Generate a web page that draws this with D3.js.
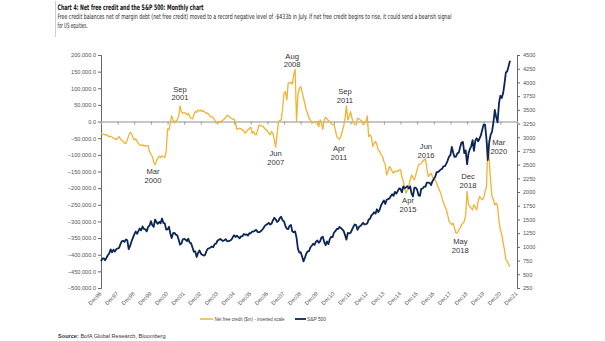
<!DOCTYPE html>
<html>
<head>
<meta charset="utf-8">
<script src="https://cdn.jsdelivr.net/npm/d3@7"></script>
<style>
  body { margin: 0; background: #fff; }
  svg text { font-family: "Liberation Sans", Arial, sans-serif; }
</style>
</head>
<body>
<div id="chart"></div>
<script>
// ---- data (monthly, Dec 1996 .. Jul 2021) ----
const firstMonth = "1996-12";

// Net free credit, $m
const creditValues = [
  -35000,
  -37000,-38000,-40000,-39500,-43000,-45000,-44000,-47000,-50000,-52000,-54000,-50000,
  -45000,-52000,-57000,-60000,-64000,-66000,-55000,-42000,-33000,-36000,-48000,-55000,
  -52000,-60000,-66000,-70000,-72000,-70000,-73000,-72000,-73000,-72000,-90000,-98000,
  -105000,-122000,-130000,-118000,-110000,-104000,-108000,-103000,-105000,-108000,-90000,-22000,
  -25000,-5000,17000,5000,-4000,2000,5000,15000,47000,30000,25000,27000,
  25000,20000,25000,15000,10000,8000,20000,30000,28000,35000,32000,35000,
  30000,33000,28000,25000,25000,20000,15000,15000,10000,5000,-5000,0,
  0,-3000,2000,5000,8000,12000,19000,17000,12000,10000,7000,7000,
  -5000,-23000,-22000,-20000,-22000,-25000,-28000,-35000,-30000,-25000,-20000,-17000,
  -35000,-30000,-38000,-40000,-25000,-10000,-12000,-13000,-15000,-20000,-25000,-28000,
  -35000,-40000,-30000,-35000,-55000,-77000,-40000,0,3000,5000,40000,85000,
  90000,65000,115000,117000,118000,113000,140000,157000,0,80000,100000,105000,
  90000,70000,55000,35000,25000,10000,5000,-5000,-3000,-2000,0,-5000,
  -15000,5000,-5000,-23000,5000,13000,8000,3000,0,-5000,-10000,-10000,
  -25000,-45000,-50000,-53000,-45000,-30000,-15000,10000,47000,5000,15000,30000,
  10000,-5000,-8000,-10000,10000,8000,5000,2000,-10000,-5000,0,17000,
  -45000,-40000,-45000,-75000,-65000,-60000,-70000,-85000,-90000,-100000,-105000,-120000,
  -130000,-160000,-150000,-135000,-140000,-150000,-155000,-150000,-148000,-150000,-145000,-145000,
  -165000,-180000,-200000,-215000,-205000,-195000,-175000,-160000,-170000,-175000,-160000,-145000,
  -130000,-128000,-125000,-120000,-115000,-112000,-140000,-165000,-160000,-155000,-165000,-175000,
  -175000,-185000,-195000,-205000,-215000,-230000,-245000,-255000,-265000,-280000,-300000,-305000,
  -310000,-305000,-320000,-335000,-335000,-325000,-320000,-310000,-305000,-300000,-280000,-210000,
  -250000,-255000,-260000,-265000,-250000,-258000,-265000,-240000,-225000,-230000,-235000,-230000,
  -210000,-195000,-65000,-115000,-180000,-225000,-235000,-250000,-245000,-255000,-300000,-325000,
  -340000,-365000,-385000,-415000,-420000,-430000,-436000
];

// S&P 500 month-end level
const spxValues = [
  740.7,
  786.2,790.8,757.1,801.3,848.3,885.1,954.3,899.5,947.3,914.6,955.4,970.4,
  980.3,1049.3,1101.8,1111.8,1090.8,1133.8,1120.7,957.3,1017.0,1098.7,1163.6,1229.2,
  1279.6,1238.3,1286.4,1335.2,1301.8,1372.7,1328.7,1320.4,1282.7,1362.9,1388.9,1469.3,
  1394.5,1366.4,1498.6,1452.4,1420.6,1454.6,1430.8,1517.7,1436.5,1429.4,1315.0,1320.3,
  1366.0,1239.9,1160.3,1249.5,1255.8,1224.4,1211.2,1133.6,1040.9,1059.8,1139.5,1148.1,
  1130.2,1106.7,1147.4,1076.9,1067.1,989.8,911.6,916.1,815.3,885.8,936.3,879.8,
  855.7,841.2,848.2,916.9,963.6,974.5,990.3,1008.0,996.0,1050.7,1058.2,1111.9,
  1131.1,1144.9,1126.2,1107.3,1120.7,1140.8,1101.7,1104.2,1114.6,1130.2,1173.8,1211.9,
  1181.3,1203.6,1180.6,1156.9,1191.5,1191.3,1234.2,1220.3,1228.8,1207.0,1249.5,1248.3,
  1280.1,1280.7,1294.8,1310.6,1270.1,1270.2,1276.7,1303.8,1335.9,1377.9,1400.6,1418.3,
  1438.2,1406.8,1420.9,1482.4,1530.6,1503.4,1455.3,1474.0,1526.8,1549.4,1481.1,1468.4,
  1378.6,1330.6,1322.7,1385.6,1400.4,1280.0,1267.4,1282.8,1166.4,968.8,896.2,903.3,
  825.9,735.1,797.9,872.8,919.1,919.3,987.5,1020.6,1057.1,1036.2,1095.6,1115.1,
  1073.9,1104.5,1169.4,1186.7,1089.4,1030.7,1101.6,1049.3,1141.2,1183.3,1180.6,1257.6,
  1286.1,1327.2,1325.8,1363.6,1345.2,1320.6,1292.3,1218.9,1131.4,1253.3,1247.0,1257.6,
  1312.4,1365.7,1408.5,1397.9,1310.3,1362.2,1379.3,1406.6,1440.7,1412.2,1416.2,1426.2,
  1498.1,1514.7,1569.2,1597.6,1630.7,1606.3,1685.7,1633.0,1681.6,1756.5,1805.8,1848.4,
  1782.6,1859.5,1872.3,1884.0,1923.6,1960.2,1930.7,2003.4,1972.3,2018.1,2067.6,2058.9,
  1995.0,2104.5,2067.9,2085.5,2107.4,2063.1,2103.8,1972.2,1920.0,2079.4,2080.4,2043.9,
  1940.2,1932.2,2059.7,2065.3,2097.0,2098.9,2173.6,2171.0,2168.3,2126.2,2198.8,2238.8,
  2278.9,2363.6,2362.7,2384.2,2411.8,2423.4,2470.3,2471.7,2519.4,2575.3,2647.6,2673.6,
  2823.8,2713.8,2640.9,2648.1,2705.3,2718.4,2816.3,2901.5,2914.0,2711.7,2760.2,2506.9,
  2704.1,2784.5,2834.4,2945.8,2752.1,2941.8,2980.4,2926.5,2976.7,3037.6,3141.0,3230.8,
  3225.5,2954.2,2584.6,2912.4,3044.3,3100.3,3271.1,3500.3,3363.0,3270.0,3621.6,3756.1,
  3714.2,3811.2,3972.9,4181.2,4204.1,4297.5,4395.3
];

const xTickLabels = ["Dec96","Dec97","Dec98","Dec99","Dec00","Dec01","Dec02","Dec03","Dec04",
  "Dec05","Dec06","Dec07","Dec08","Dec09","Dec10","Dec11","Dec12","Dec13","Dec14","Dec15",
  "Dec16","Dec17","Dec18","Dec19","Dec20","Dec21"];
const leftTicks = [200000,150000,100000,50000,0,-50000,-100000,-150000,-200000,-250000,
  -300000,-350000,-400000,-450000,-500000];
const rightTicks = [4500,4250,4000,3750,3500,3250,3000,2750,2500,2250,2000,1750,1500,1250,1000,750,500,250];

// annotations: month, two text lines
const noteMonths = ["2000-03","2001-09","2007-06","2008-08","2011-09","2011-04","2016-06","2015-04","2018-12","2018-05","2020-03"];
const noteText = [["Mar","2000"],["Sep","2001"],["Jun","2007"],["Aug","2008"],["Sep","2011"],["Apr","2011"],
  ["Jun","2016"],["Apr","2015"],["Dec","2018"],["May","2018"],["Mar","2020"]];
// first-line baseline placement relative to the point (px)
const noteOffsets = [[-2,9.6],[0,-14.4],[0,9.2],[-3,-10.8],[-1.5,-11.5],[-0.5,12.2],[0.5,-9.4],[2,10.2],[1,-12.1],[3,11.3],[11,2.2]];

// ---- layout ----
const W = 605, H = 341;
const plot = {left: 101, right: 517, top: 55, bottom: 288};
const gold = "#F2B233", navy = "#0B2556";
const narrow = "'Liberation Sans Narrow','DejaVu Sans Condensed',sans-serif";

const parseM = d3.timeParse("%Y-%m");
const start = parseM(firstMonth);
const dates = creditValues.map((_, i) => d3.timeMonth.offset(start, i));
const xTickDates = xTickLabels.map((_, i) => d3.timeYear.offset(start, i));

const x = d3.scaleTime()
  .domain([xTickDates[0], xTickDates[xTickDates.length - 1]])
  .range([plot.left, plot.right]);
const yL = d3.scaleLinear().domain([-500000, 200000]).range([plot.bottom, plot.top]);
const yR = d3.scaleLinear().domain([250, 4500]).range([plot.bottom, plot.top]);

const svg = d3.select("#chart").append("svg")
  .attr("width", W).attr("height", H);

// header
svg.append("line").attr("x1", 55.5).attr("x2", 55.5).attr("y1", 1).attr("y2", 37)
  .attr("stroke", "#cfcfcf").attr("stroke-width", 1);
svg.append("text").attr("x", 57.5).attr("y", 10)
  .style("font-family", narrow)
  .style("font-weight", "bold").style("font-size", "7.6px").attr("fill", "#111")
  .attr("textLength", 146).attr("lengthAdjust", "spacingAndGlyphs")
  .text("Chart 4: Net free credit and the S&P 500: Monthly chart");
svg.append("text").attr("x", 57.5).attr("y", 19)
  .style("font-family", narrow)
  .style("font-size", "7.2px").attr("fill", "#222")
  .attr("textLength", 394).attr("lengthAdjust", "spacingAndGlyphs")
  .text("Free credit balances net of margin debt (net free credit) moved to a record negative level of -$433b in July. If net free credit begins to rise, it could send a bearish signal");
svg.append("text").attr("x", 57.5).attr("y", 27.5)
  .style("font-family", narrow)
  .style("font-size", "7.2px").attr("fill", "#222")
  .attr("textLength", 30).attr("lengthAdjust", "spacingAndGlyphs")
  .text("for US equities.");

// left axis
const leftAxis = svg.append("g")
  .attr("transform", `translate(${plot.left},0)`)
  .call(d3.axisLeft(yL).tickValues(leftTicks).tickFormat(d3.format(",.1f")).tickSize(3).tickPadding(2));
leftAxis.select(".domain").attr("stroke", "#666");
leftAxis.selectAll(".tick line").attr("stroke", "#666");
leftAxis.selectAll("text").style("font-size", "5.6px").attr("fill", "#555");

// right axis
const rightAxis = svg.append("g")
  .attr("transform", `translate(${plot.right},0)`)
  .call(d3.axisRight(yR).tickValues(rightTicks).tickFormat(d3.format("d")).tickSize(3).tickPadding(3));
rightAxis.select(".domain").attr("stroke", "#666");
rightAxis.selectAll(".tick line").attr("stroke", "#666");
rightAxis.selectAll("text").style("font-size", "5.6px").attr("fill", "#555");

// x axis sits on the zero line
const xAxis = svg.append("g")
  .attr("transform", `translate(0,${yL(0)})`)
  .call(d3.axisBottom(x).tickValues(xTickDates).tickFormat("").tickSize(3));
xAxis.select(".domain").attr("stroke", "#b5b5b5").attr("stroke-width", 1.4);
xAxis.selectAll(".tick line").attr("stroke", "#999");

// x tick labels at the bottom, rotated
svg.append("g").selectAll("text")
  .data(xTickDates)
  .join("text")
  .attr("transform", d => `translate(${x(d) + 1},${plot.bottom + 6}) rotate(-45)`)
  .attr("text-anchor", "end")
  .style("font-size", "5.6px").attr("fill", "#555")
  .text((d, i) => xTickLabels[i]);

// lines
svg.append("path")
  .datum(creditValues)
  .attr("fill", "none").attr("stroke", gold).attr("stroke-width", 1.3)
  .attr("stroke-linejoin", "round")
  .attr("d", d3.line().x((d, i) => x(dates[i])).y(d => yL(d)));

svg.append("path")
  .datum(spxValues)
  .attr("fill", "none").attr("stroke", navy).attr("stroke-width", 1.8)
  .attr("stroke-linejoin", "round")
  .attr("d", d3.line().x((d, i) => x(dates[i])).y(d => yR(d)));

// annotations
const notes = svg.append("g")
  .style("font-family", "Lato, 'Open Sans', sans-serif")
  .style("font-size", "7.6px").attr("fill", "#333");
noteMonths.forEach((m, i) => {
  const dt = parseM(m);
  const idx = d3.timeMonth.count(start, dt);
  const px = x(dt) + noteOffsets[i][0];
  const py = yL(creditValues[idx]) + noteOffsets[i][1];
  const t = notes.append("text").attr("text-anchor", "middle");
  t.append("tspan").attr("x", px).attr("y", py).text(noteText[i][0]);
  t.append("tspan").attr("x", px).attr("y", py + 8.7).text(noteText[i][1]);
});

// legend
const legend = svg.append("g").style("font-size", "5.6px").attr("fill", "#444");
legend.append("line").attr("x1", 200).attr("x2", 213).attr("y1", 319).attr("y2", 319)
  .attr("stroke", gold).attr("stroke-width", 1.5);
legend.append("text").attr("x", 214.5).attr("y", 321)
  .attr("textLength", 70).attr("lengthAdjust", "spacingAndGlyphs")
  .text("Net free credit ($m) - inverted scale");
legend.append("line").attr("x1", 295).attr("x2", 306).attr("y1", 319).attr("y2", 319)
  .attr("stroke", navy).attr("stroke-width", 1.8);
legend.append("text").attr("x", 307).attr("y", 321)
  .attr("textLength", 19).attr("lengthAdjust", "spacingAndGlyphs")
  .text("S&P 500");

// source
const src = svg.append("text").attr("x", 58).attr("y", 338)
  .style("font-size", "5.6px").attr("fill", "#333");
src.append("tspan").style("font-weight", "bold").text("Source:");
src.append("tspan").text(" BofA Global Research, Bloomberg");
</script>
</body>
</html>
